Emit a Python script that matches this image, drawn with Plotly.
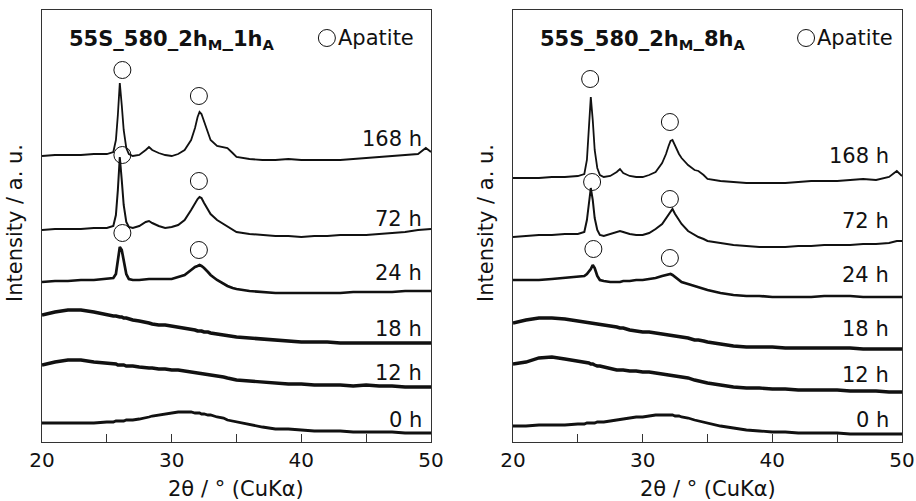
import plotly.graph_objects as go

# Common 2-theta grid (degrees, CuKa); finer around the apatite reflections
two_theta = [20, 21, 22, 23, 24, 25, 25.5, 25.7, 25.85, 26.0, 26.15, 26.3, 26.5, 26.7,
             27, 27.5, 28, 28.25, 28.5, 29, 29.5, 30, 30.5, 31,
             31.5, 31.8, 32.0, 32.15, 32.3, 32.5, 32.8, 33, 33.5, 34,
             34.3, 34.7, 35, 36, 37, 38, 39, 40, 41, 42,
             43, 44, 45, 46, 47, 48, 49, 49.6, 50]

times = ["168 h", "72 h", "24 h", "18 h", "12 h", "0 h"]

# ---- 55S_580_2hM_1hA : stacked intensities (a.u.)
a1_168 = [286, 287, 287, 287, 288, 288, 290, 302, 327, 359, 337, 312, 294, 288,
          286, 287, 292, 295, 292, 289, 287, 286, 288, 292,
          302, 314, 325, 330, 328, 320, 309, 302, 296, 295,
          294, 289, 285, 283, 282, 282, 283, 282, 282, 282,
          282, 283, 284, 285, 286, 287, 288, 294, 290]
a1_72 = [212, 213, 213, 213, 214, 214, 216, 227, 252, 285, 262, 237, 220, 215,
         214, 216, 220, 221, 219, 216, 214, 215, 217, 222,
         232, 239, 243, 245, 244, 239, 232, 228, 222, 218,
         216, 213, 210, 208, 207, 206, 206, 205, 206, 206,
         207, 207, 207, 208, 209, 210, 212, 213, 213]
a1_24 = [160, 161, 161, 162, 162, 163, 164, 168, 180, 195, 192, 180, 168, 163,
         162, 162, 163, 163, 163, 163, 163, 163, 165, 167,
         172, 175, 176, 177, 176, 174, 170, 167, 162, 158,
         156, 154, 153, 151, 150, 149, 149, 149, 149, 149,
         149, 150, 150, 150, 150, 151, 151, 151, 151]
a1_18 = [127, 130, 132, 132, 130, 127, 126, 126, 125, 125, 125, 124, 124, 123,
         122, 121, 120, 119, 118, 117, 117, 116, 115, 114,
         113, 112, 111, 111, 111, 110, 110, 109, 108, 107,
         106, 106, 105, 104, 103, 102, 101, 100, 100, 100,
         99, 99, 99, 99, 99, 99, 99, 99, 99]
a1_12 = [77, 80, 82, 82, 80, 79, 78, 78, 77, 77, 77, 77, 76, 76,
         76, 75, 74, 74, 74, 73, 73, 72, 72, 71,
         70, 70, 69, 69, 69, 68, 68, 67, 66, 65,
         64, 63, 62, 61, 60, 59, 58, 58, 57, 57,
         57, 56, 57, 56, 56, 55, 55, 55, 55]
a1_0 = [19, 19, 19, 19, 19, 20, 20, 21, 21, 21, 21, 21, 22, 22,
        22, 23, 24, 25, 26, 27, 28, 29, 30, 30,
        30, 29, 29, 29, 28, 28, 27, 27, 25, 24,
        22, 21, 20, 17, 15, 13, 13, 12, 11, 11,
        11, 10, 10, 10, 10, 9, 9, 9, 9]

# ---- 55S_580_2hM_8hA : stacked intensities (a.u.)
a8_168 = [264, 264, 264, 265, 265, 266, 268, 282, 312, 345, 322, 292, 274, 267,
          265, 266, 270, 273, 269, 266, 265, 265, 267, 270,
          279, 288, 296, 301, 302, 296, 288, 284, 277, 272,
          271, 267, 263, 261, 260, 259, 259, 259, 259, 260,
          261, 261, 261, 262, 263, 262, 265, 271, 266]
a8_72 = [205, 206, 207, 207, 208, 208, 210, 222, 237, 254, 242, 224, 212, 207,
         206, 208, 210, 211, 210, 208, 207, 207, 209, 213,
         218, 224, 228, 231, 233, 228, 222, 218, 211, 207,
         205, 203, 201, 199, 197, 196, 195, 195, 195, 196,
         196, 197, 197, 197, 198, 198, 199, 201, 201]
a8_24 = [162, 162, 162, 163, 164, 165, 166, 168, 170, 173, 177, 174, 166, 162,
         161, 160, 160, 160, 161, 161, 162, 162, 163, 164,
         166, 167, 168, 168, 167, 165, 162, 160, 158, 156,
         155, 153, 152, 149, 147, 146, 146, 145, 145, 145,
         145, 146, 146, 146, 145, 145, 145, 145, 145]
a8_18 = [119, 122, 124, 124, 123, 121, 120, 120, 119, 119, 119, 119, 118, 118,
         117, 116, 115, 114, 114, 112, 111, 110, 110, 109,
         108, 108, 107, 107, 107, 106, 106, 105, 104, 102,
         102, 101, 100, 98, 96, 95, 95, 95, 94, 94,
         94, 94, 94, 94, 93, 93, 93, 93, 93]
a8_12 = [78, 80, 84, 85, 83, 81, 80, 80, 79, 78, 78, 77, 76, 76,
         75, 73, 72, 72, 72, 71, 71, 70, 70, 69,
         68, 68, 67, 67, 67, 66, 66, 65, 64, 62,
         61, 60, 59, 57, 55, 54, 54, 53, 53, 52,
         52, 52, 52, 51, 51, 51, 50, 50, 50]
a8_0 = [16, 16, 17, 17, 17, 18, 18, 19, 19, 19, 19, 19, 20, 20,
        20, 21, 22, 23, 23, 24, 25, 25, 26, 27,
        27, 27, 27, 27, 27, 26, 26, 25, 24, 22,
        21, 20, 19, 16, 14, 12, 11, 10, 10, 9,
        9, 9, 9, 8, 8, 8, 8, 8, 8]

# Apatite reflection markers (2theta, a.u.)
ap1_x = [26.2, 32.1, 26.2, 32.1, 26.2, 32.1]
ap1_y = [372, 346, 287, 261, 209, 192]
ap8_x = [25.95, 32.1, 26.1, 32.1, 26.2, 32.1]
ap8_y = [363, 320, 260, 243, 193, 184]

# Label heights for the time annotations (a.u.)
lab1_y = [303, 223, 169, 113, 69, 22]
lab8_y = [286, 221, 167, 113, 67, 22]

panels = [
    dict(name="55S_580_2h<sub>M</sub>_1h<sub>A</sub>",
         series=[a1_168, a1_72, a1_24, a1_18, a1_12, a1_0],
         ap_x=ap1_x, ap_y=ap1_y, lab_y=lab1_y, lab_x=49.45,
         leg_x=41.97, txt_x=42.7, xa="x", ya="y"),
    dict(name="55S_580_2h<sub>M</sub>_8h<sub>A</sub>",
         series=[a8_168, a8_72, a8_24, a8_18, a8_12, a8_0],
         ap_x=ap8_x, ap_y=ap8_y, lab_y=lab8_y, lab_x=49.15,
         leg_x=42.6, txt_x=43.3, xa="x2", ya="y2"),
]

widths = [1.8, 2.0, 2.7, 3.6, 3.4, 2.8]
INK = "#111111"
FONT = "DejaVu Sans, Verdana, sans-serif"

fig = go.Figure()
annotations = []
for p in panels:
    for s, w in zip(p["series"], widths):
        fig.add_trace(go.Scatter(x=two_theta, y=s, mode="lines",
                                 line=dict(color=INK, width=w),
                                 xaxis=p["xa"], yaxis=p["ya"],
                                 showlegend=False, hoverinfo="skip"))
    fig.add_trace(go.Scatter(x=p["ap_x"] + [p["leg_x"]], y=p["ap_y"] + [404],
                             mode="markers",
                             marker=dict(symbol="circle-open", size=17,
                                         color=INK, line=dict(width=1, color=INK)),
                             xaxis=p["xa"], yaxis=p["ya"],
                             showlegend=False, hoverinfo="skip"))
    for t, yy in zip(times, p["lab_y"]):
        annotations.append(dict(x=p["lab_x"], y=yy, xref=p["xa"], yref=p["ya"],
                                text=t, showarrow=False, xanchor="right",
                                yanchor="middle",
                                font=dict(family=FONT, size=21, color=INK)))
    annotations.append(dict(x=21.9, y=402, xref=p["xa"], yref=p["ya"],
                            text="<b>" + p["name"] + "</b>", showarrow=False,
                            xanchor="left", yanchor="middle",
                            font=dict(family=FONT, size=21, color=INK)))
    annotations.append(dict(x=p["txt_x"], y=404, xref=p["xa"], yref=p["ya"],
                            text="Apatite", showarrow=False,
                            xanchor="left", yanchor="middle",
                            font=dict(family=FONT, size=21, color=INK)))

# axis titles
for cx in (236.5, 707.5):
    annotations.append(dict(x=cx / 916, y=(501 - 489) / 501, xref="paper", yref="paper",
                            text="2θ / ° (CuKα)", showarrow=False,
                            xanchor="center", yanchor="middle",
                            font=dict(family=FONT, size=21, color=INK)))
for cx in (15, 486):
    annotations.append(dict(x=cx / 916, y=(501 - 223) / 501, xref="paper", yref="paper",
                            text="Intensity / a. u.", showarrow=False, textangle=-90,
                            xanchor="center", yanchor="middle",
                            font=dict(family=FONT, size=21, color=INK)))

xcommon = dict(range=[20, 50], tickmode="linear", tick0=20, dtick=10,
               ticks="inside", ticklen=8, tickcolor="#333", tickwidth=1,
               minor=dict(tickmode="linear", tick0=20, dtick=5, ticks="inside",
                          ticklen=8, tickcolor="#333", tickwidth=1, showgrid=False),
               showline=True, mirror=True, linecolor="#333", linewidth=1.2,
               showgrid=False, zeroline=False, automargin=False,
               tickfont=dict(family=FONT, size=20, color=INK))
ycommon = dict(range=[0, 432], showticklabels=False, ticks="",
               showline=True, mirror=True, linecolor="#333", linewidth=1.2,
               showgrid=False, zeroline=False, automargin=False,
               domain=[59 / 501, 491 / 501])

fig.update_layout(
    width=916, height=501,
    margin=dict(l=0, r=0, t=0, b=0),
    paper_bgcolor="white", plot_bgcolor="white",
    xaxis=dict(domain=[42 / 916, 431 / 916], anchor="y", **xcommon),
    yaxis=dict(anchor="x", **ycommon),
    xaxis2=dict(domain=[513 / 916, 902 / 916], anchor="y2", **xcommon),
    yaxis2=dict(anchor="x2", **ycommon),
    annotations=annotations,
)

fig.write_html("out.html")
